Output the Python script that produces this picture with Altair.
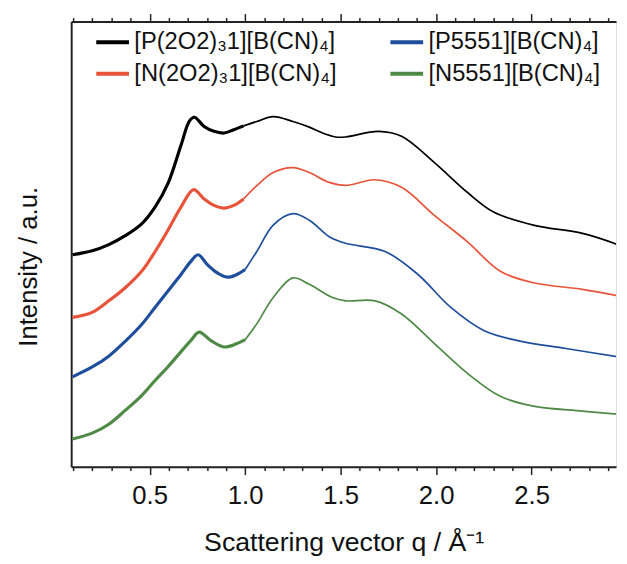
import altair as alt
import pandas as pd

# series labels (legend fills column by column)
labels = ["[P(2O2)\u20831][B(CN)\u2084]", "[N(2O2)\u20831][B(CN)\u2084]",
          "[P5551][B(CN)\u2084]", "[N5551][B(CN)\u2084]"]
colors = ["#000000", "#e8533a", "#1f4e9c", "#4e8a45"]

# q values (1/Å) and intensities (a.u., offset stacked)
q_p2o2 = [0.096, 0.199, 0.286, 0.372, 0.458, 0.528, 0.596, 0.663, 0.708, 0.734, 0.785,
          0.837, 0.889, 0.940, 0.992, 1.061, 1.147, 1.250, 1.336, 1.405, 1.474, 1.526, 1.698,
          1.819, 1.991, 2.163, 2.301, 2.509, 2.766, 2.956]
i_p2o2 = [214.7, 218.7, 225, 234, 246, 263, 287, 325, 350, 354, 344.7,
          339.7, 338, 341.3, 345.3, 349.7, 354.7, 349.7, 344, 338, 334, 334, 339.7,
          334.7, 308, 278, 258, 244.7, 236.3, 224.7]

q_n2o2 = [0.096, 0.199, 0.286, 0.372, 0.458, 0.492, 0.579, 0.664, 0.730, 0.785, 0.837, 0.889,
          0.940, 0.992, 1.061, 1.147, 1.250, 1.336, 1.440, 1.526, 1.681, 1.819, 1.991, 2.163,
          2.336, 2.509, 2.766, 2.956]
i_n2o2 = [151.3, 156.3, 168, 181.3, 198, 207, 234, 263, 280.7, 271.3, 264.7, 262,
          264.7, 271.3, 284.7, 298, 303, 298, 288, 285, 290.7, 283, 254.7, 228,
          198, 186.3, 179.7, 173]

q_p5551 = [0.096, 0.199, 0.286, 0.372, 0.458, 0.527, 0.596, 0.664, 0.716, 0.754, 0.802, 0.854,
           0.906, 0.957, 1.000, 1.061, 1.147, 1.250, 1.336, 1.440, 1.526, 1.733, 1.905, 2.077,
           2.249, 2.421, 2.680, 2.956]
i_p5551 = [91, 101, 112, 127, 144, 161, 178, 194.7, 208, 214.7, 204.7, 196.3,
           192, 194.7, 199.7, 218, 244.7, 256.3, 249.7, 233, 226.3, 218, 194.7, 161.3,
           138, 128, 119.7, 111.3]

q_n5551 = [0.096, 0.199, 0.286, 0.372, 0.458, 0.527, 0.596, 0.716, 0.759, 0.819, 0.889, 0.957,
           1.000, 1.061, 1.147, 1.250, 1.336, 1.457, 1.526, 1.681, 1.819, 1.991, 2.163, 2.336,
           2.509, 2.766, 2.956]
i_n5551 = [28, 34, 43, 57, 72, 87, 101.3, 128, 136.3, 128, 121.3, 124.7,
           128.7, 144.7, 171.3, 191.3, 184.7, 171.3, 168, 168, 154.7, 124.7, 94.7, 71.3,
           61.3, 56.3, 53]

# q where the noisy low-angle detector range ends
q_stitch = 1.0

# x-axis tick values (every 0.1, labelled every 0.5)
tick_values = [round(0.1 * k, 1) for k in range(1, 30)]

series = [(labels[0], q_p2o2, i_p2o2), (labels[1], q_n2o2, i_n2o2),
          (labels[2], q_p5551, i_p5551), (labels[3], q_n5551, i_n5551)]
rows = []
for name, qs, ins in series:
    last_low = max(k for k, qq in enumerate(qs) if qq <= q_stitch)
    for k, (qq, ii) in enumerate(zip(qs, ins)):
        if k <= last_low:
            rows.append({"sample": name, "q": qq, "I": ii, "order": k, "seg": "low"})
        if k >= last_low:
            rows.append({"sample": name, "q": qq, "I": ii, "order": k, "seg": "high"})
df = pd.DataFrame(rows)

FONT = "Liberation Sans"
major = "abs(datum.value*2 - round(datum.value*2)) < 0.001"
tick_size = {"condition": {"test": major, "value": 8}, "value": 4}

xscale = alt.Scale(domain=[0.089, 2.942], nice=False, zero=False)
yscale = alt.Scale(domain=[0, 451], nice=False, zero=False)

yaxis = alt.Axis(labels=False, ticks=False, grid=False, domainColor="#222",
                 domainWidth=2, title="Intensity / a.u.", titleFont=FONT,
                 titleFontSize=26, titleFontWeight="normal", titleColor="#111",
                 titlePadding=30, titleY=248)

lines = alt.Chart(df).mark_line(clip=True, interpolate="catmull-rom").encode(
    x=alt.X("q:Q", scale=xscale,
            axis=alt.Axis(orient="bottom", values=tick_values, grid=False,
                          labelExpr=f"{major} ? format(datum.value, '.1f') : ''",
                          tickSize=tick_size, tickWidth=1.5, tickColor="#222",
                          domainColor="#222", domainWidth=2,
                          labelFont=FONT, labelFontSize=26, labelColor="#111",
                          labelPadding=8, labelFlush=False, labelOverlap=False,
                          title="Scattering vector q / Å\u207b\u00b9",
                          titleFont=FONT, titleFontSize=27, titleFontWeight="normal",
                          titleColor="#111", titlePadding=22)),
    y=alt.Y("I:Q", scale=yscale, axis=yaxis),
    color=alt.Color("sample:N",
                    scale=alt.Scale(domain=labels, range=colors),
                    legend=alt.Legend(orient="none", legendX=23, legendY=2, columns=2,
                                      columnPadding=46, rowPadding=1, title=None,
                                      symbolType="stroke", symbolSize=1100,
                                      symbolStrokeWidth=4, labelFont=FONT,
                                      labelFontSize=24, labelColor="#111",
                                      labelLimit=400, labelOffset=3, padding=0)),
    strokeWidth=alt.StrokeWidth("seg:N", scale=alt.Scale(domain=["low", "high"],
                                                          range=[3.2, 1.7]), legend=None),
    detail="sample:N",
    order="order:Q",
)

top = alt.Chart(df).mark_line(opacity=0).encode(
    x=alt.X("q:Q", scale=xscale,
            axis=alt.Axis(orient="top", values=tick_values, grid=False, labels=False,
                          tickSize=tick_size, tickWidth=1.5, tickColor="#222",
                          domainColor="#222", domainWidth=2, title=None)),
    y=alt.Y("I:Q", scale=yscale, axis=yaxis),
    detail="sample:N",
)

chart = alt.layer(lines, top).resolve_axis(x="independent").properties(
    width=552, height=451,
    padding={"left": 8, "top": 1, "right": 0, "bottom": 12},
).configure_view(stroke=None).configure(background="white")

chart.save("out.html", embed_options={"renderer": "svg", "actions": False})
